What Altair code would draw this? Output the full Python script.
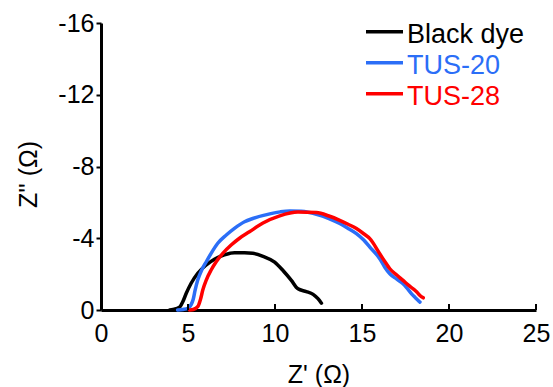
import altair as alt
import pandas as pd

# ---- data ----
series_names = ["Black dye", "TUS-20", "TUS-28"]
series_colors = ["#000000", "#2B6EF7", "#FF0000"]

black_x = [3.95, 4.13, 4.51, 4.7, 4.9, 5.18, 5.56, 6.05, 6.52, 7.09, 7.67, 8.25, 8.72, 9.31,
           9.98, 10.46, 10.94, 11.32, 11.8, 12.19, 12.47, 12.67]
black_y = [0, -0.03, -0.15, -0.46, -0.93, -1.49, -2.05, -2.51, -2.83, -3.07, -3.19, -3.19, -3.16, -2.99,
           -2.67, -2.2, -1.65, -1.18, -1.03, -0.87, -0.63, -0.38]

tus20_x = [4.4, 4.7, 5.0, 5.18, 5.3, 5.41, 5.56, 5.79, 6.05, 6.33, 6.71, 7.2, 7.67, 8.25, 8.72,
           9.7, 10.3, 10.85, 11.5, 12.38, 13.1, 13.72, 14.2, 14.68, 15.1, 15.45, 16.02, 16.3,
           16.6, 17.0, 17.36, 17.6, 17.85, 18.05, 18.23, 18.33]
tus20_y = [0, -0.03, -0.1, -0.3, -0.6, -1.11, -1.67, -2.23, -2.69, -3.16, -3.72, -4.18, -4.55, -4.92, -5.1,
           -5.36, -5.47, -5.52, -5.5, -5.34, -5.1, -4.82, -4.55, -4.26, -3.9, -3.51, -2.86, -2.4,
           -2.02, -1.72, -1.46, -1.2, -0.9, -0.7, -0.53, -0.44]

tus28_x = [5.1, 5.3, 5.57, 5.72, 5.85, 6.05, 6.33, 6.62, 7.0, 7.48, 7.96, 8.53, 9.31, 10.27,
           11.32, 12.38, 13.1, 13.72, 14.2, 14.68, 15.1, 15.45, 16.02, 16.3, 16.6, 17.0, 17.36,
           17.65, 17.94, 18.15, 18.33, 18.52]
tus28_y = [0, -0.03, -0.2, -0.6, -1.11, -1.67, -2.23, -2.69, -3.16, -3.62, -4.0, -4.36, -4.85, -5.25,
           -5.46, -5.43, -5.24, -5.0, -4.78, -4.54, -4.25, -3.98, -3.14, -2.72, -2.3, -1.95, -1.65,
           -1.4, -1.18, -1.0, -0.81, -0.68]

x_ticks = [0, 5, 10, 15, 20, 25]
y_ticks = [0, -4, -8, -12, -16]

# ---- build table ----
rows = []
for name, xs, ys in zip(series_names, [black_x, tus20_x, tus28_x], [black_y, tus20_y, tus28_y]):
    for i, (xv, yv) in enumerate(zip(xs, ys)):
        rows.append({"series": name, "x": xv, "y": yv, "i": i})
df = pd.DataFrame(rows)
tick_df = pd.DataFrame({"t": [v for v in x_ticks if v != 0]})

FONT = "Liberation Sans"
W, H = 435, 287

xscale = alt.Scale(domain=[0, 25], nice=False, zero=False)
yscale = alt.Scale(domain=[0, -16], nice=False, zero=False)

x_axis = alt.Axis(
    values=x_ticks, title="Z' (Ω)", grid=False,
    domainWidth=3, domainColor="black", ticks=True, tickSize=0,
    labelFont=FONT, labelFontSize=25, labelColor="black", labelPadding=11.5,
    labelFlush=False, labelOverlap=False,
    titleFont=FONT, titleFontSize=25, titleFontWeight="normal", titleColor="black",
    titleBaseline="alphabetic", titleY=72, titleX=W / 2, titleAlign="center",
)
y_axis = alt.Axis(
    values=y_ticks, title="Z'' (Ω)", grid=False,
    domainWidth=3, domainColor="black", tickSize=5, tickWidth=2, tickColor="black",
    labelFont=FONT, labelFontSize=25, labelColor="black", labelPadding=2,
    labelExpr="datum.value < 0 ? '-' + (-datum.value) : '' + datum.value",
    titleFont=FONT, titleFontSize=25, titleFontWeight="normal", titleColor="black",
    titleAngle=270, titleBaseline="alphabetic", titleAlign="center", titleX=-65, titleY=151,
)

lines = alt.Chart(df).mark_line(
    strokeWidth=3.5, strokeJoin="round", strokeCap="round", interpolate="monotone"
).encode(
    x=alt.X("x:Q", scale=xscale, axis=x_axis),
    y=alt.Y("y:Q", scale=yscale, axis=y_axis),
    color=alt.Color("series:N", scale=alt.Scale(domain=series_names, range=series_colors), legend=None),
    order=alt.Order("i:Q"),
)

ticks = alt.Chart(tick_df).mark_rule(strokeWidth=2, color="black").encode(
    x=alt.X("t:Q", scale=xscale, axis=x_axis),
    y=alt.YDatum(0, axis=y_axis),
    y2=alt.Y2Datum(-0.33),
)

legend_layers = []
for k, (name, col) in enumerate(zip(series_names, series_colors)):
    legend_layers.append(
        alt.Chart(pd.DataFrame({"n": [name]})).mark_rule(strokeWidth=3.5, color=col).encode(
            x=alt.value(265), x2=alt.value(302), y=alt.value(8.7 + 31 * k)
        )
    )
    legend_layers.append(
        alt.Chart(pd.DataFrame({"n": [name]})).mark_text(
            font=FONT, fontSize=27, color=col, align="left", baseline="alphabetic"
        ).encode(text="n:N", x=alt.value(306), y=alt.value(19.7 + 31 * k))
    )

chart = alt.layer(lines, ticks, *legend_layers).properties(
    width=W, height=H,
    padding={"left": 101, "top": 23, "right": 17, "bottom": 77},
    autosize="none",
    background="white",
).configure_view(stroke=None)

chart.save("out.html", embed_options={"renderer": "svg", "actions": False})
